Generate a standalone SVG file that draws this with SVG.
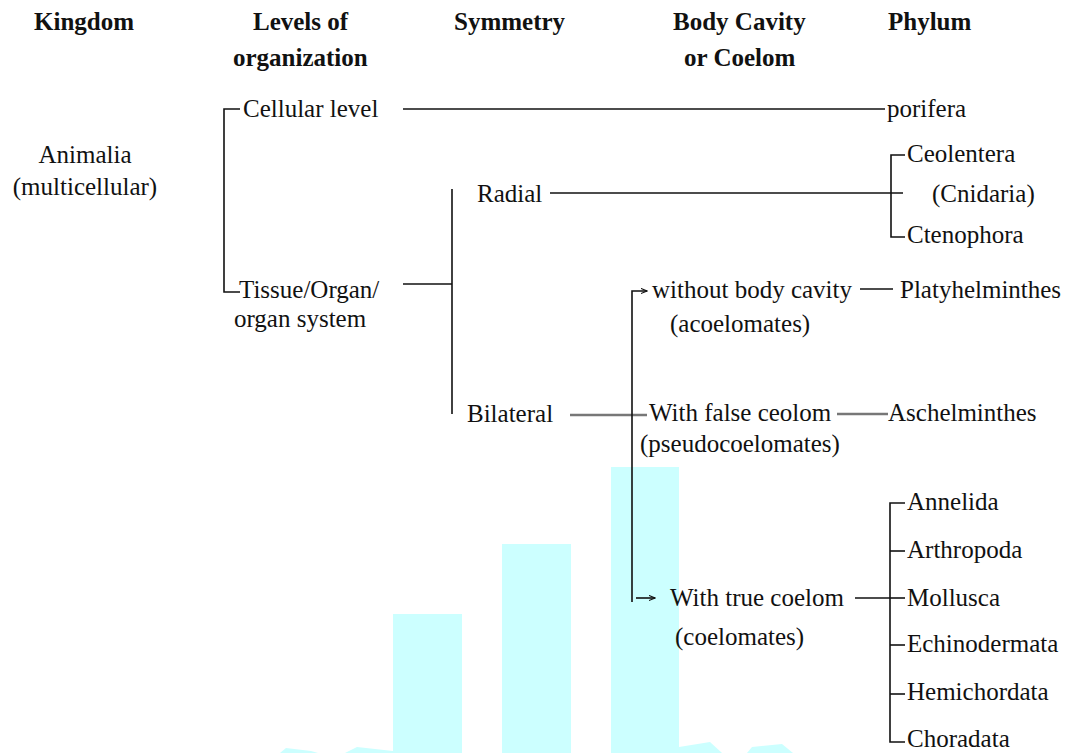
<svg xmlns="http://www.w3.org/2000/svg" width="1067" height="753" viewBox="0 0 1067 753">
  <style>
    .hd { font-family: 'Liberation Serif', 'DejaVu Serif', serif; font-weight: bold; font-size: 25px; fill: #111; }
    .tx { font-family: 'Liberation Serif', 'DejaVu Serif', serif; font-size: 25px; fill: #111; }
    .ln { stroke: #111; stroke-width: 1.6; fill: none; }
    .gl { stroke: #777; stroke-width: 2.6; fill: none; }
    .wm { fill: #ccffff; }
  </style>
  <defs>
    <marker id="ah" viewBox="0 0 8 8" refX="7" refY="4" markerWidth="7" markerHeight="7" orient="auto" markerUnits="userSpaceOnUse">
      <path d="M0,1 L7,4 L0,7" fill="none" stroke="#111" stroke-width="1.2"/>
    </marker>
  </defs>
  <rect width="1067" height="753" fill="#ffffff"/>

  <!-- background bar-chart mark -->
  <g id="backdrop">
    <rect class="wm" x="393" y="614" width="69" height="139"/>
    <rect class="wm" x="502" y="544" width="69" height="209"/>
    <rect class="wm" x="611" y="467" width="68" height="286"/>
    <polygon class="wm" points="280,753 286,748 311,751 318,753"/>
    <polygon class="wm" points="345,753 357,747 393,751 393,753"/>
    <polygon class="wm" points="679,753 679,747 710,742 722,753"/>
    <polygon class="wm" points="747,753 752,747 782,744 793,753"/>
  </g>

  <!-- column headings -->
  <g id="headers">
    <text class="hd" x="34" y="30">Kingdom</text>
    <text class="hd" x="253" y="30">Levels of</text>
    <text class="hd" x="233" y="66">organization</text>
    <text class="hd" x="454" y="30">Symmetry</text>
    <text class="hd" x="673" y="30">Body Cavity</text>
    <text class="hd" x="684" y="66">or Coelom</text>
    <text class="hd" x="888" y="30">Phylum</text>
  </g>

  <!-- connectors -->
  <g id="connectors">
    <!-- kingdom bracket -->
    <path class="ln" d="M240,109 H224 V292 H240"/>
    <line class="ln" x1="403" y1="109" x2="885" y2="109"/>
    <!-- tissue level to symmetry -->
    <line class="ln" x1="403" y1="284" x2="452" y2="284"/>
    <line class="ln" x1="452" y1="189" x2="452" y2="414"/>
    <!-- radial -->
    <line class="ln" x1="550" y1="193" x2="903" y2="193"/>
    <path class="ln" d="M905,155 H891 V237 H905"/>
    <!-- bilateral -->
    <line class="gl" x1="570" y1="415" x2="647" y2="415"/>
    <path class="ln" d="M632,602 V291 H647" marker-end="url(#ah)"/>
    <line class="ln" x1="636" y1="598" x2="655" y2="598" marker-end="url(#ah)"/>
    <line class="ln" x1="860" y1="289" x2="893" y2="289"/>
    <line class="gl" x1="837" y1="414" x2="888" y2="414"/>
    <!-- coelomates bracket -->
    <line class="ln" x1="855" y1="598" x2="890" y2="598"/>
    <path class="ln" d="M905,503 H890 V742 H905"/>
    <line class="ln" x1="890" y1="551" x2="905" y2="551"/>
    <line class="ln" x1="890" y1="598" x2="905" y2="598"/>
    <line class="ln" x1="890" y1="645" x2="905" y2="645"/>
    <line class="ln" x1="890" y1="694" x2="905" y2="694"/>
  </g>

  <g id="kingdom">
    <text class="tx" x="85" y="163" text-anchor="middle">Animalia</text>
    <text class="tx" x="85" y="195" text-anchor="middle">(multicellular)</text>
  </g>

  <g id="cellular">
    <text class="tx" x="243" y="117">Cellular level</text>
  </g>
  <g id="tissue">
    <text class="tx" x="239" y="298">Tissue/Organ/</text>
    <text class="tx" x="234" y="327">organ system</text>
  </g>

  <g id="radial">
    <text class="tx" x="477" y="202">Radial</text>
  </g>
  <g id="bilateral">
    <text class="tx" x="467" y="422">Bilateral</text>
  </g>

  <g id="acoelomates">
    <text class="tx" x="652" y="298">without body cavity</text>
    <text class="tx" x="670" y="332">(acoelomates)</text>
  </g>
  <g id="pseudocoelomates">
    <text class="tx" x="649" y="421">With false ceolom</text>
    <text class="tx" x="640" y="452">(pseudocoelomates)</text>
  </g>
  <g id="coelomates">
    <text class="tx" x="670" y="606">With true coelom</text>
    <text class="tx" x="675" y="645">(coelomates)</text>
  </g>

  <g id="porifera"><text class="tx" x="887" y="117">porifera</text></g>
  <g id="coelenterata">
    <text class="tx" x="907" y="162">Ceolentera</text>
    <text class="tx" x="932" y="202">(Cnidaria)</text>
  </g>
  <g id="ctenophora"><text class="tx" x="907" y="243">Ctenophora</text></g>
  <g id="platyhelminthes"><text class="tx" x="900" y="298">Platyhelminthes</text></g>
  <g id="aschelminthes"><text class="tx" x="888" y="421">Aschelminthes</text></g>
  <g id="annelida"><text class="tx" x="907" y="510">Annelida</text></g>
  <g id="arthropoda"><text class="tx" x="907" y="558">Arthropoda</text></g>
  <g id="mollusca"><text class="tx" x="907" y="606">Mollusca</text></g>
  <g id="echinodermata"><text class="tx" x="907" y="652">Echinodermata</text></g>
  <g id="hemichordata"><text class="tx" x="907" y="700">Hemichordata</text></g>
  <g id="choradata"><text class="tx" x="907" y="747">Choradata</text></g>
</svg>
